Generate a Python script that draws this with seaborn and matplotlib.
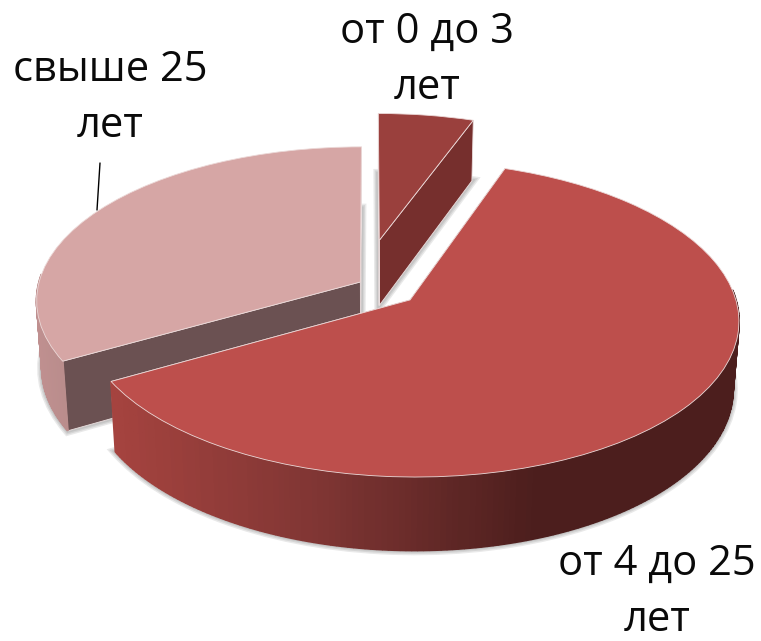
import numpy as np
import matplotlib
matplotlib.use("Agg")
import matplotlib.pyplot as plt
from matplotlib.patches import Polygon, Wedge
from matplotlib.transforms import Transform
import seaborn as sns

labels = ["от 0 до 3\nлет", "от 4 до 25\nлет", "свыше 25\nлет"]
shares = [5.5, 61.3, 33.2]

# look of each slice: top, cut face, outer wall from left to right
top_colors = ["#9a403d", "#bd4f4c", "#d6a6a5"]
cut_colors = ["#762f2d", "#6e2c2a", "#6b5152"]
wall_colors = [["#762f2d", "#762f2d"], ["#a5433f", "#7e3533", "#4c1e1d", "#4c1e1d"], ["#c09090", "#b88c8b"]]
offsets = [(0.03, 0.305), (0.123, -0.097), (-0.03, 0.02)]
label_xy = [(427, 60), (657, 592), (110, 98)]
draw_order = [0, 2, 1]

sns.set_theme(style="white")
plt.rcParams["font.family"] = ["Open Sans", "DejaVu Sans"]

CX, CY = 370, 285
RX, RY = 322, 152
TILT = 0.12
SQUEEZE = 0.016
DEPTH = 68


def project(x, y, z=0.0):
    w = 1 + TILT * y + SQUEEZE * z
    return CX + RX * x / w, CY - RY * y / w + z * DEPTH / w


class Persp(Transform):
    input_dims = 2
    output_dims = 2

    def __init__(self, z=0.0):
        super().__init__()
        self.z = z

    def transform_non_affine(self, values):
        sx, sy = project(values[:, 0], values[:, 1], self.z)
        return np.column_stack([sx, sy])


fig = plt.figure(figsize=(7.61, 6.41), dpi=100)
ax = fig.add_axes([0, 0, 1, 1])

wedges, _ = ax.pie(shares, startangle=90, counterclock=False, colors=top_colors)
ax.set_aspect("auto")
ax.set_xlim(0, 761)
ax.set_ylim(641, 0)
ax.axis("off")

for rank, i in enumerate(draw_order):
    wedge = wedges[i]
    base = 10 * (rank + 1)
    cx, cy = offsets[i]
    wedge.set_center((cx, cy))

    # soft shadow round the foot of the slice
    for lw in (7, 5, 3):
        foot = Wedge((cx, cy), 1, wedge.theta1, wedge.theta2, facecolor="none",
                     edgecolor="#555555", alpha=0.13, linewidth=lw)
        ax.add_patch(foot)
        foot.set_transform(Persp(1.0) + ax.transData)
        foot.set_zorder(base)

    # flat faces on the two cuts
    for theta in (wedge.theta1, wedge.theta2):
        ex, ey = cx + np.cos(np.radians(theta)), cy + np.sin(np.radians(theta))
        pts = [project(cx, cy), project(ex, ey), project(ex, ey, 1.0), project(cx, cy, 1.0)]
        ax.add_patch(Polygon(pts, closed=True, facecolor=cut_colors[i], edgecolor="#eadede",
                             linewidth=0.6, zorder=base + 1))

    # outer wall, cut in thin strips so it can carry the gradient
    angles = np.linspace(wedge.theta1, wedge.theta2, 240)
    ramp = sns.blend_palette(wall_colors[i], 100)
    for a, b in zip(angles[:-1], angles[1:]):
        xa, ya = cx + np.cos(np.radians(a)), cy + np.sin(np.radians(a))
        xb, yb = cx + np.cos(np.radians(b)), cy + np.sin(np.radians(b))
        if np.sin(np.radians(a)) > 0.05 and np.sin(np.radians(b)) > 0.05:
            continue
        sx = project(xa, ya)[0]
        if i == 1:
            pos = np.clip((sx - 110) / (740 - 110), 0, 1)
        else:
            pos = np.clip((sx - 35) / 35, 0, 1)
        col = ramp[int(pos * 99)]
        pts = [project(xa, ya), project(xb, yb), project(xb, yb, 1.0), project(xa, ya, 1.0)]
        ax.add_patch(Polygon(pts, closed=True, facecolor=col, edgecolor=col,
                             linewidth=1.4, joinstyle="bevel", zorder=base + 2))

    # top face comes straight from the pie
    wedge.set_transform(Persp(0.0) + ax.transData)
    wedge.set_edgecolor("#ecd9d8")
    wedge.set_linewidth(0.6)
    wedge.set_zorder(base + 5)

for text, (x, y) in zip(labels, label_xy):
    ax.text(x, y, text, ha="center", va="center", fontsize=30, color="#0a0a0a",
            linespacing=1.42, zorder=60)

ax.plot([97, 100], [210, 163], color="black", linewidth=1, zorder=60)

fig.savefig("out.png", dpi=100)
